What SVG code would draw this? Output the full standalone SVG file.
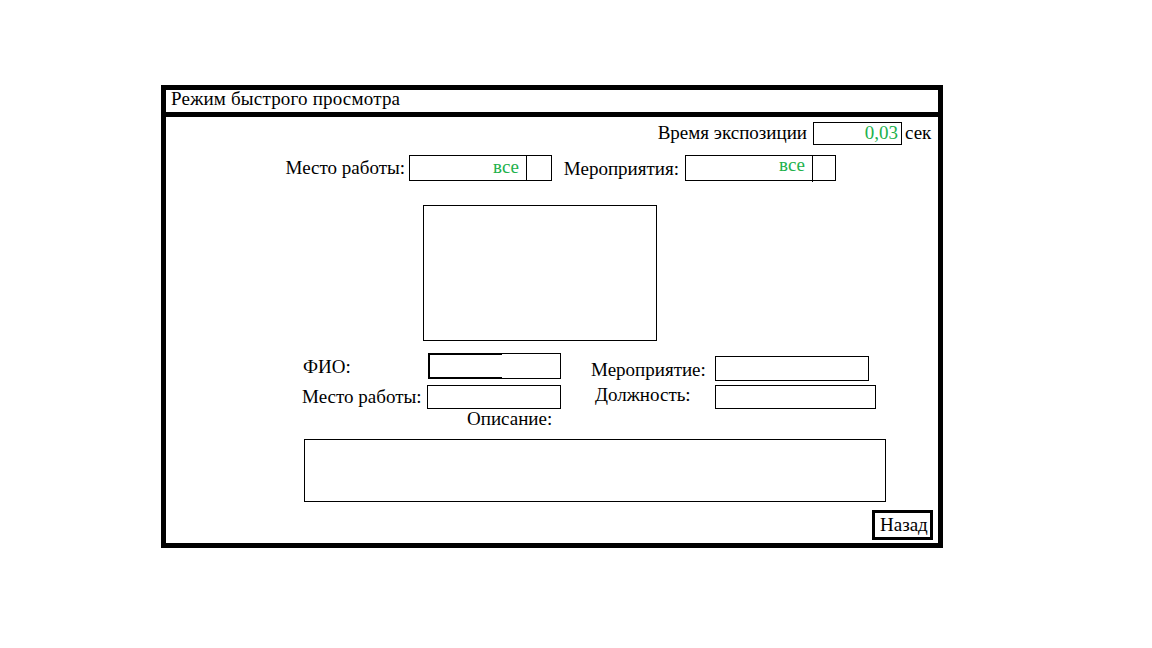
<svg xmlns="http://www.w3.org/2000/svg" width="1152" height="648" viewBox="0 0 1152 648">
<style>
text{font-family:"Liberation Serif","DejaVu Serif",serif;font-size:19px;fill:#000}
.g{fill:#22b14c}
.box{fill:#fff;stroke:#000;stroke-width:1}
.thick{fill:none;stroke:#000;stroke-width:5}
</style>
<rect width="1152" height="648" fill="#fff"/>
<g id="window">
<rect class="thick" x="163.5" y="87.5" width="777" height="458"/>
<line x1="163.5" y1="114.5" x2="940.5" y2="114.5" stroke="#000" stroke-width="5"/>
<text x="171" y="105" textLength="229">Режим быстрого просмотра</text>
</g>
<g id="exposure">
<text x="807" y="139" text-anchor="end">Время экспозиции</text>
<rect class="box" x="813.5" y="122.5" width="88" height="22"/>
<text class="g" x="898" y="139" text-anchor="end">0,03</text>
<text x="905" y="139">сек</text>
</g>
<g id="workplace-filter">
<text x="405" y="174" text-anchor="end">Место работы:</text>
<rect class="box" x="409.5" y="155.5" width="142" height="25"/>
<line x1="526.5" y1="155.5" x2="526.5" y2="180.5" stroke="#000"/>
<text class="g" x="519" y="173" text-anchor="end">все</text>
</g>
<g id="event-filter">
<text x="679" y="175" text-anchor="end">Мероприятия:</text>
<rect class="box" x="685.5" y="155.5" width="150" height="25"/>
<line x1="812.5" y1="155.5" x2="812.5" y2="182" stroke="#000"/>
<text class="g" x="805" y="171" text-anchor="end">все</text>
</g>
<g id="photo">
<rect class="box" x="423.5" y="205.5" width="233" height="135"/>
</g>
<g id="fio">
<text x="303" y="373">ФИО:</text>
<rect class="box" x="428.5" y="353.5" width="132" height="25"/>
<path d="M502 354 H429 V378 H502" fill="none" stroke="#000" stroke-width="2"/>
</g>
<g id="workplace">
<text x="302" y="403">Место работы:</text>
<rect class="box" x="427.5" y="385.5" width="133" height="23"/>
</g>
<g id="event">
<text x="591" y="376">Мероприятие:</text>
<rect class="box" x="715.5" y="356.5" width="153" height="24"/>
</g>
<g id="position">
<text x="595" y="401">Должность:</text>
<rect class="box" x="715.5" y="385.5" width="160" height="23"/>
</g>
<g id="description">
<text x="467" y="425">Описание:</text>
<rect class="box" x="304.5" y="439.5" width="581" height="62"/>
</g>
<g id="back-button">
<rect x="873.5" y="511.5" width="58" height="27" fill="#fff" stroke="#000" stroke-width="3"/>
<text x="880" y="531">Назад</text>
</g>
<g id="connectors"/>
</svg>
